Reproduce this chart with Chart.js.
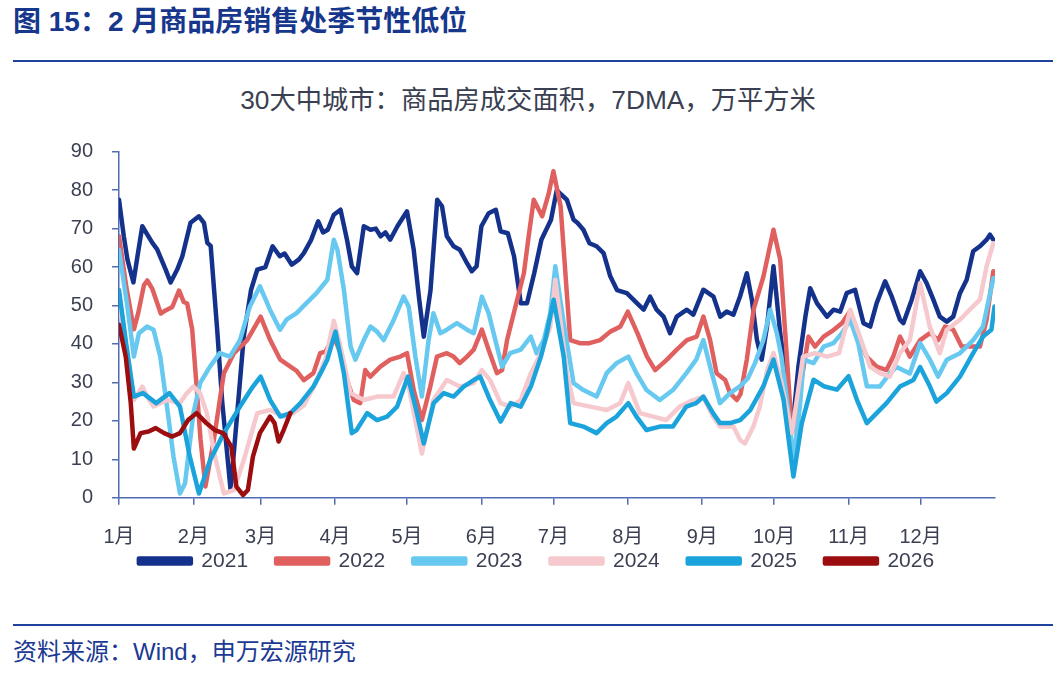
<!DOCTYPE html>
<html>
<head>
<meta charset="utf-8">
<script src="https://cdn.jsdelivr.net/npm/chart.js@4.4.1/dist/chart.umd.min.js"></script>
<style>
  body { margin: 0; width: 1062px; height: 674px; background: #fff; position: relative; overflow: hidden;
         font-family: "Liberation Sans", "Noto Sans CJK SC", sans-serif; }
  #title { position: absolute; left: 13px; top: 8px; font-size: 28px; line-height: 28px; font-weight: bold; color: #17378c; white-space: nowrap; }
  #subtitle { position: absolute; left: 0; width: 1056px; top: 87px; text-align: center; font-size: 26.3px; line-height: 26px; color: #3b3f52; }
  .rule { position: absolute; left: 13px; width: 1040px; height: 2px; background: #1f439c; }
  #source { position: absolute; left: 13px; top: 640px; font-size: 24px; line-height: 24px; color: #1c3a93; white-space: nowrap; }
  #chart { position: absolute; left: 0; top: 120px; }
</style>
</head>
<body>
<div id="title">图 15：2 月商品房销售处季节性低位</div>
<div class="rule" style="top:60px"></div>
<div id="subtitle">30大中城市：商品房成交面积，7DMA，万平方米</div>
<canvas id="chart" width="1062" height="496"></canvas>
<div class="rule" style="top:624px"></div>
<div id="source">资料来源：Wind，申万宏源研究</div>
<script>
// month ticks (day of year)
const monthStarts = [0, 31, 59, 90, 120, 151, 181, 212, 243, 273, 304, 334];
const monthLabels = ['1月', '2月', '3月', '4月', '5月', '6月', '7月', '8月', '9月', '10月', '11月', '12月'];
const yearLabels = ['2021', '2022', '2023', '2024', '2025', '2026'];

// 7DMA values, x = day of year
const days2021 = [0,2,3.5,6,8,9.7,13.9,15.9,19.4,21.5,24.3,26.4,29.8,33.3,35.4,36.8,38.2,40.9,43,46.5,49,52,55,57.6,61,64,67,69,72,75,77,80,83,85,87,89.5,92.3,95,97,99.2,102,104.8,107,109,111,113,116,120,122.8,125,127,129.8,132.6,134.6,136.6,139.4,142,145,147,149,151,154,157,159,162,164.6,167.4,170,173,176,180,182.4,184,186.6,189.4,191,193.5,196,199,201.9,204.7,207.5,211.6,215.8,218.6,221.3,224,226.9,229.6,232.4,236.6,239.3,243.5,247.7,250.5,253.2,256,258.8,261.6,263.7,265.8,267.8,270,272.7,275.5,278.3,280.4,283.1,286,288,290.8,295,297.7,300.5,303.2,306.7,310.2,313,315.7,319.2,322,325.4,326.8,330.3,333.8,336.5,339.3,342,344.9,347.6,350.4,353.2,355.9,358.7,361.5,362.9,364.3];
const vals2021 = [77.5,68,62,56,64,70.6,66.3,64.6,59.4,56,59.4,62.8,71.5,73.2,71.5,66.3,65.5,43.8,25,2,20,42,54,59.3,60,65.4,62.8,63.5,60.6,62,63.6,67,71.9,69,69.7,73.6,74.9,67.1,60.2,58.4,70.6,69.7,70,68,69,67.1,70.6,74.5,64.5,52,41.9,54,77.5,75.8,68,65.4,64.5,61,58.9,60.2,70.6,74,74.9,69.3,68.8,62.8,50.6,50.6,58.4,67.1,72.3,80,79,77.5,72.3,71.5,69.7,66.2,65.4,63.6,57.6,54,53.2,50.6,48.9,52.3,48.9,47.1,42.8,47.1,48.9,47.6,54.1,52.3,47.1,48.4,47.6,52.4,58.4,51.5,41.1,35.9,44.5,60.2,42.8,29.8,16.8,34.2,47.1,54.5,50.6,47.1,48.9,48.4,53.2,54.1,45.4,44.5,50.6,56.3,52.3,46.3,45.4,51.5,58.9,55.8,51.5,47.1,45.8,47.1,53.2,56.7,64.1,65.4,67.1,68.4,67.1];

const days2022 = [0,3,6.2,8,10.4,11.8,13.9,17.4,19.4,22.2,25,27,28.4,30.5,31.9,34,36,39.5,43.7,47.9,53.4,59,63,67.2,71.4,74,77,81,83.8,86,89.5,92.3,95,97.8,100.5,102.6,104.7,108.9,113,117.2,120,122.8,126.2,129.7,132.5,136.6,139.4,142,145,147.8,151.2,154,157.5,159.6,161.7,165.9,168.7,170.7,172.8,176.3,179,181,184,186,188,192,196,200.5,204.7,208.9,212,216,220,223.4,228.3,232.4,236.6,240.7,243.5,246.3,249,252.6,254.6,257.4,259,261.6,264.4,268.5,272.7,275.5,277.6,280.4,283.7,287.3,290,293.6,297.7,301.2,304.6,308.7,311.5,315.7,319.8,322.6,325.4,329.5,333.8,337.9,341.3,344.2,347.6,351.1,355.9,358.7,361.5,364.3];
const vals2022 = [68,55,43.8,48,55.3,56.5,54.3,47.9,48.7,49.6,53.9,50.9,50.5,43.8,32.4,15,2.9,15,32.4,37.6,41,47.1,41,35.9,34.1,33,30.6,32.4,37.6,38,41.9,37.6,30.6,25.4,24.6,33.2,31.5,34.1,35.9,36.7,37.6,28,20.2,28.9,36.7,37.6,36.7,35,36.7,38.5,43.7,38.5,32.4,33.2,41,51.5,58.4,68,77.5,73.2,79,84.9,75.8,58.4,41,40.2,40.2,41,43.2,44.5,48.4,42.8,36.7,33.2,35.9,38.5,41,41.9,47.1,41,32.4,30.6,27.2,25.4,27,36,48.9,57.5,69.7,61.9,42.8,16.8,28,41.9,39.3,41.9,43.6,45.4,48.5,41,36.7,34.1,33.2,36.7,41.9,36.7,41,42.8,41,44.5,43.7,39.3,39.3,39.3,46.3,58.9];

const days2023 = [0,3.5,6.2,8.3,11.7,14.4,17.2,20,22.7,25.4,27.5,31,33.8,37.9,42,46.2,50.4,54.5,58.7,62.9,67.1,69.8,74,78.1,82.3,86.8,89.5,91,93.7,96.5,98.5,102,104.8,107.5,110.3,114.5,118.6,120.7,123.5,126.2,129,131,133.9,136.6,140.8,145,147.8,151.2,154,157.5,159.6,163,167.4,171.6,174,177,179.7,181.8,185.3,189.4,193.5,199,203.2,207.3,212.2,215.6,219.8,225.3,230.8,236.4,240.5,243.5,247,250.4,254.6,258.8,262,265,268.5,271.3,274.1,276,278.3,281,283.7,285.3,289.4,293.6,297.7,301.2,304.7,308,311.6,317,321.2,324,329.5,333.8,337.9,341.3,344.9,350.4,355.9,360,364.3];
const vals2023 = [64.5,49.7,36.7,42.8,44.5,43.7,36.7,23.7,10.7,1.1,3.7,22,29.8,34.1,37.6,36.7,41,49.7,55,48.9,43.7,46.3,48,50.6,53.2,56.7,67.1,64.5,54.1,39.3,35.9,41,44.5,43.2,41,46.3,52.3,49.7,36.7,26.3,41,48,42.8,43.7,45.4,43.7,42.8,52.3,48,39.3,34.1,37.6,38.5,41.9,37.6,41,48,60.2,45.4,29.8,28,26.3,32.4,35,36.7,32.4,28,25.4,28,32.4,35.9,41,32.4,24.6,27.2,29,31,35,41,48.9,42.8,36.7,25.5,9.8,23.7,35.9,35,39.3,40.2,42.8,46.3,40.2,29,28.9,32.4,34,32.3,40.2,35.9,31.5,35.9,37.6,41,44.5,57.1];

const days2024 = [0,3,6.2,9.7,12,14.4,17,20,25.4,28,31,33.8,36.6,40,43.7,47.9,52,57.6,63,68.6,72.6,77,82,86,89.5,92,96.5,102,107.5,114.4,118.6,121,126.2,131,136.6,142,147.8,151.2,154.6,159,163.2,167.4,171.6,175.8,179.7,181.8,186.6,189.4,196.3,203.2,208.8,212.2,217,222.6,228,233.6,239.2,243.4,247.5,250.4,256,258.8,260.8,264.3,267,270,272.7,276,280.4,285,290,295,300,304.7,308.7,312.9,317,321.2,325.4,329.5,333.8,337.8,342,344.9,350.4,353.2,358.7,361.5,364.3];
const vals2024 = [51.5,38,25.4,28.9,26,23.7,24.5,25.4,24.6,27,28.9,27.2,22,10.7,1.1,2,9.8,22,22.8,21.1,22,24,30,36,46,40,27.2,25.4,26.3,26.3,32.4,28,11.5,25.4,30.6,28.9,29.8,33.2,30.6,24.6,23.7,25.4,32.4,37.6,44.5,56.7,32.4,24.6,23.7,22.8,24.6,29.8,22,21.1,20.2,23.7,25.4,26.3,21.1,18.5,18.5,15,14.1,18.5,23.7,33,37.6,30,16.8,36.7,37.6,36.7,37.6,48.9,41.9,34.1,32.4,31.5,37.6,41,55.8,44.5,37.6,43.7,46.3,48.1,51.5,60.2,66.2];

const days2025 = [0,3,6.2,10,15.5,21,25.4,29.5,33.3,38,43.7,50.4,55.8,59,63,67.2,71.4,75.6,81,84,86.8,90.2,93.7,97,99,103.4,107.5,111.7,115.9,120.4,123.5,127,131.1,135.3,139.4,143.6,147.8,150.5,154.6,159,163.2,167.4,171.6,175.8,178,181.1,185.3,188,193.5,199,203.2,207.3,212.2,215.6,219.8,225.3,230.8,236.4,240.5,243.5,247.5,250.4,254.6,258.8,263,268.5,272.7,276.9,281,284.5,289.4,293.6,299.1,304,307.5,311.6,315.7,319.8,325.4,331,333.8,337.9,340.6,344.9,350.4,355.9,360,363.5,364.8];
const vals2025 = [54,40,26.3,27.2,24.6,27.2,23.7,10.7,1.1,9.8,16.8,23.7,28.9,31.5,25.4,21.1,22,24.6,28.9,32.4,35.9,43.2,32.4,16.8,17.6,22,20.2,21.1,23.7,31.5,23.7,14.1,24.6,27.2,26.3,28.9,30.6,31.5,25.4,19.8,24.6,23.7,28.9,36.7,42,51.5,36.7,19.4,18.5,16.8,19.4,21.1,24.6,21.1,17.6,18.5,18.5,23.7,24.6,26.3,22,19.4,19.4,20.2,22.8,29,35.9,25.5,5.5,19.4,30.7,29,28.1,31.6,25.4,19.4,22,24.6,28.9,30.6,34,28.9,25,27.2,31.5,37.6,41.9,43.7,49.7];

const days2026 = [0,2.8,4.9,6.2,9,12.3,15.3,18.8,22.2,25.4,28.8,32.3,36.4,39.9,43.4,46.8,48.9,51.7,53.7,55.8,58.7,62.9,64.8,66.5,68.6,71.4];
const vals2026 = [45,36.7,24.6,12.8,16.8,17.2,18.1,16.8,15.9,16.8,20.2,22,19.4,17.6,16.8,13.3,2.9,0.7,2,10.7,16.8,21.1,19.4,14.6,17.6,22];

const yTicks = [0, 10, 20, 30, 40, 50, 60, 70, 80, 90];

function pts(days, vals) {
  return days.map((d, i) => ({ x: d, y: vals[i] }));
}

const seriesDays = [days2021, days2022, days2023, days2024, days2025, days2026];
const seriesVals = [vals2021, vals2022, vals2023, vals2024, vals2025, vals2026];
const colors = ['#14318c', '#e0605f', '#67c8f0', '#f5c9cd', '#1ba3db', '#9b0d0f'];

const axisColor = '#4f6db0';
const tickColor = '#3b3f52';
const fontFamily = '"Liberation Sans", "Noto Sans CJK SC", sans-serif';

// put the legend where the reference has it (centred on 536, text at y 441)
const legendPlace = {
  id: 'legendPlace',
  afterLayout(chart) {
    chart.legend.left = 78;
    chart.legend.top = chart.chartArea.bottom + 24.8;
  }
};

let ctx = document.getElementById('chart').getContext('2d');
let chart = new Chart(ctx, {
  type: 'line',
  data: {
    datasets: yearLabels.map((lab, i) => ({
      label: lab,
      data: pts(seriesDays[i], seriesVals[i]),
      borderColor: colors[i],
      backgroundColor: colors[i],
      borderWidth: 4.5,
      pointRadius: 0,
      tension: 0,
      borderJoinStyle: 'round',
      borderCapStyle: 'round',
      order: 10 - i
    }))
  },
  options: {
    responsive: false,
    animation: false,
    devicePixelRatio: 1,
    layout: { padding: { left: 0, right: 67, top: 31.7, bottom: 5.3 } },
    plugins: {
      tooltip: { enabled: false },
      legend: {
        position: 'bottom',
        labels: {
          boxWidth: 52,
          boxHeight: 5,
          padding: 28,
          color: tickColor,
          font: { family: fontFamily, size: 21 },
          sort: (a, b) => a.datasetIndex - b.datasetIndex
        }
      }
    },
    scales: {
      x: {
        type: 'linear',
        min: 0,
        max: 365,
        afterFit: (s) => { s.height = 54; },
        afterBuildTicks: (s) => { s.ticks = monthStarts.map(v => ({ value: v })); },
        grid: { drawOnChartArea: false, drawTicks: true, tickLength: 7, color: axisColor, lineWidth: 1.5 },
        border: { display: true, color: axisColor, width: 1.5 },
        ticks: {
          autoSkip: false,
          maxRotation: 0,
          padding: 21,
          color: tickColor,
          font: { family: fontFamily, size: 20 },
          callback: (v) => monthLabels[monthStarts.indexOf(v)]
        }
      },
      y: {
        min: 0,
        max: 90,
        afterFit: (s) => { s.width = 119; },
        afterBuildTicks: (s) => { s.ticks = yTicks.map(v => ({ value: v })); },
        grid: { drawOnChartArea: false, drawTicks: true, tickLength: 7, color: axisColor, lineWidth: 1.5 },
        border: { display: true, color: axisColor, width: 1.5 },
        ticks: {
          padding: 19,
          color: tickColor,
          font: { family: fontFamily, size: 20 }
        }
      }
    }
  },
  plugins: [legendPlace]
});
</script>
</body>
</html>
